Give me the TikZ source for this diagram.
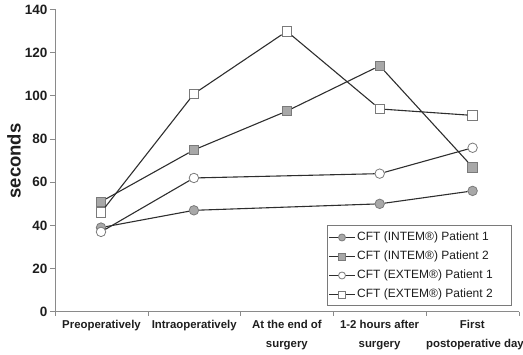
\documentclass[tikz,border=0pt]{standalone}
\usepackage{fontspec}
\setmainfont{Liberation Sans}
\definecolor{axisgray}{HTML}{8A8A8A}
\definecolor{linegray}{HTML}{2E2E2E}
\definecolor{markgray}{HTML}{7A7A7A}
\definecolor{fillgray}{HTML}{A8A8A8}
\definecolor{textdark}{HTML}{1E1E1E}
\begin{document}
\begin{tikzpicture}[x=1pt,y=-1pt,
  axis/.style={draw=axisgray, line width=1.4pt},
  tickmark/.style={draw=axisgray, line width=1pt},
  series/.style={draw=linegray, line width=1.1pt},
  mk/.style={inner sep=0pt, minimum size=9.5pt, draw=markgray, line width=0.8pt},
  gcirc/.style={mk, circle, fill=fillgray},
  gsq/.style={mk, rectangle, fill=fillgray},
  wcirc/.style={mk, circle, fill=white},
  wsq/.style={mk, rectangle, fill=white},
  legmk/.style={minimum size=7pt},
  ticklab/.style={font=\bfseries\fontsize{13.5}{15}\selectfont, text=textdark, anchor=east, inner sep=0pt},
  catlab/.style={font=\bfseries\fontsize{11.4}{12}\selectfont, text=textdark, inner sep=0pt, anchor=base},
  legtext/.style={font=\fontsize{12}{14}\selectfont, text=textdark, anchor=west, inner sep=0pt},
  legbox/.style={draw=markgray, line width=0.9pt, fill=white}
]
\useasboundingbox (0,0) rectangle (523,355);

% axes
\coordinate (ytop) at (55.5,10);
\coordinate (orig) at (55.5,311.7);
\coordinate (xend) at (519,311.7);
\draw[axis] (ytop) -- (orig) -- (xend);

% y ticks and labels
\foreach \v in {0,20,...,140}{
  \coordinate (yt\v) at (55.5,{311.7-2.157*\v});
  \draw[tickmark] (yt\v) -- ++(-5.5,0);
  \node[ticklab] (yl\v) at ([xshift=-8pt]yt\v) {\v};
}
% x ticks
\foreach \k in {0,...,5}{
  \coordinate (xt\k) at ({55.5+92.7*\k},311.7);
  \draw[tickmark] (xt\k) -- ++(0,4.5);
}

% axis title
\node[font=\bfseries\fontsize{18.5}{20}\selectfont, text=textdark, rotate=90, inner sep=0pt] (ytitle) at (14,161) {seconds};

% category labels
\node[catlab] (c0a) at (101.5,329) {Preoperatively};
\node[catlab] (c1a) at (194.2,329) {Intraoperatively};
\node[catlab] (c2a) at (286.9,329) {At the end of};
\node[catlab] (c2b) at (286.9,348) {surgery};
\node[catlab] (c3a) at (379.6,329) {1-2 hours after};
\node[catlab] (c3b) at (379.6,348) {surgery};
\node[catlab] (c4a) at (472.3,329) {First};
\node[catlab] (c4b) at (475,348) {postoperative day};

% data markers
\begin{scope}[shift={(101,311.7)}, x=92.9pt, y=2.157pt]
  % CFT (INTEM) Patient 1
  \node[gcirc] (a0) at (0,39) {};
  \node[gcirc] (a1) at (1,47) {};
  \node[gcirc] (a3) at (3,50) {};
  \node[gcirc] (a4) at (4,56) {};
  % CFT (INTEM) Patient 2
  \node[gsq] (b0) at (0,51) {};
  \node[gsq] (b1) at (1,75) {};
  \node[gsq] (b2) at (2,93) {};
  \node[gsq] (b3) at (3,114) {};
  \node[gsq] (b4) at (4,67) {};
  % CFT (EXTEM) Patient 1
  \node[wcirc] (c0) at (0,37) {};
  \node[wcirc] (c1) at (1,62) {};
  \node[wcirc] (c3) at (3,64) {};
  \node[wcirc] (c4) at (4,76) {};
  % CFT (EXTEM) Patient 2
  \node[wsq] (d0) at (0,46) {};
  \node[wsq] (d1) at (1,101) {};
  \node[wsq] (d2) at (2,130) {};
  \node[wsq] (d3) at (3,94) {};
  \node[wsq] (d4) at (4,91) {};
\end{scope}
% series lines, marker to marker
\draw[series] (a0) -- (a1) -- (a3) -- (a4);
\draw[series] (b0) -- (b1) -- (b2) -- (b3) -- (b4);
\draw[series] (c0) -- (c1) -- (c3) -- (c4);
\draw[series] (d0) -- (d1) -- (d2) -- (d3) -- (d4);

% legend
\draw[legbox] (327,225) rectangle (511,305);
\foreach \i/\st/\txt in {1/gcirc/CFT (INTEM®) Patient 1, 2/gsq/CFT (INTEM®) Patient 2, 3/wcirc/CFT (EXTEM®) Patient 1, 4/wsq/CFT (EXTEM®) Patient 2}{
  \coordinate (la\i) at (329,{218.5+19*\i});
  \coordinate (lb\i) at (355,{218.5+19*\i});
  \draw[series] (la\i) -- (lb\i);
  \node[\st, legmk] (lm\i) at (342,{218.5+19*\i}) {};
  \node[legtext] (lt\i) at (357,{218.5+19*\i}) {\txt};
}
\end{tikzpicture}
\end{document}
